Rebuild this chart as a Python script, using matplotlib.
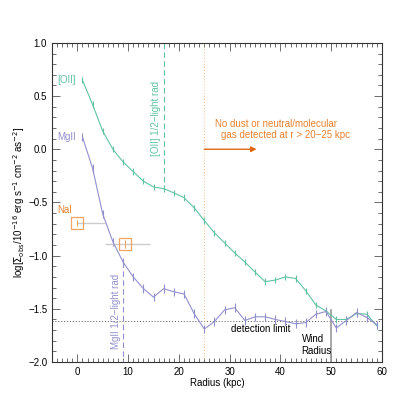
import matplotlib
matplotlib.use("Agg")
import matplotlib.pyplot as plt
from matplotlib.ticker import MultipleLocator

plt.rcParams['font.family'] = ['Liberation Sans', 'DejaVu Sans']

# ---- data ----
radius = [1, 3, 5, 7, 9, 11, 13, 15, 17, 19, 21, 23, 25, 27, 29, 31, 33, 35, 37, 39,
          41, 43, 45, 47, 49, 51, 53, 55, 57, 59]
oii = [0.65, 0.42, 0.17, 0.00, -0.12, -0.21, -0.30, -0.355, -0.37, -0.41, -0.455, -0.55,
       -0.67, -0.785, -0.88, -0.975, -1.06, -1.155, -1.245, -1.23, -1.20, -1.215, -1.33,
       -1.465, -1.52, -1.60, -1.60, -1.545, -1.55, -1.66]
oii_err = [0.03] * len(radius)
mgii = [0.115, -0.18, -0.61, -0.87, -1.06, -1.20, -1.31, -1.39, -1.31, -1.34, -1.36, -1.545,
        -1.69, -1.62, -1.51, -1.49, -1.61, -1.575, -1.575, -1.60, -1.62, -1.64, -1.63,
        -1.55, -1.525, -1.68, -1.61, -1.535, -1.58, -1.65]
mgii_err = [0.04] * len(radius)
nai_r = [0.0, 9.3]
nai_val = [-0.695, -0.89]
nai_xerr_lo = [0.0, 3.8]
nai_xerr_hi = [5.4, 5.0]
nai_yerr = [0.03, 0.04]

detection_limit = -1.61
oii_half_light = 17.0
mgii_half_light = 9.0
dust_radius = 25.0
arrow_end = 35.3
wind_radius = 50.0

c_oii = '#62c3a2'
c_mgii = '#9290cc'
c_nai = '#f2a463'
c_arrow = '#e0670f'
c_text = '#e8812f'

fig = plt.figure(figsize=(4.15, 4.15), dpi=100)
ax = fig.add_axes([0.1253, 0.1277, 0.795, 0.769])

ax.set_xlim(-5, 60)
ax.set_ylim(-2.0, 1.0)

# reference lines
ax.axhline(detection_limit, color='#555555', ls=(0, (1, 2)), lw=0.7)
ax.axvline(dust_radius, color=c_nai, ls=(0, (1, 2.5)), lw=0.6)
ax.plot([oii_half_light, oii_half_light], [1.0, -0.37], color=c_oii, ls=(0, (5, 3)), lw=0.8)
ax.plot([mgii_half_light, mgii_half_light], [-1.06, -2.0], color=c_mgii, ls=(0, (5, 3)), lw=0.8)
ax.plot([wind_radius, wind_radius], [-1.51, -2.0], color='#999999', lw=1.2)

# data series
ax.errorbar(radius, oii, yerr=oii_err, color=c_oii, lw=0.8, elinewidth=0.8, capsize=0)
ax.errorbar(radius, mgii, yerr=mgii_err, color=c_mgii, lw=0.8, elinewidth=0.8, capsize=0)
ax.errorbar(nai_r, nai_val, xerr=[nai_xerr_lo, nai_xerr_hi], fmt='none',
            ecolor='#cccccc', elinewidth=1.0, capsize=0)
ax.errorbar(nai_r, nai_val, yerr=nai_yerr, fmt='s', ms=8, mfc='none', mec=c_nai,
            mew=0.9, ecolor=c_nai, elinewidth=0.8, capsize=0)

# arrow
ax.annotate('', xy=(arrow_end, 0.0), xytext=(dust_radius, 0.0),
            arrowprops=dict(arrowstyle='-|>', color=c_arrow, lw=1.0,
                            mutation_scale=8, shrinkA=0, shrinkB=0))

fs = 7
ax.text(-4.0, 0.65, '[OII]', color=c_oii, fontsize=fs, va='center', ha='left')
ax.text(-4.0, 0.115, 'MgII', color=c_mgii, fontsize=fs, va='center', ha='left')
ax.text(-4.0, -0.57, 'NaI', color=c_text, fontsize=fs, va='center', ha='left')
ax.text(15.4, 0.29, '[OII] 1/2\u2212light rad', color=c_oii, fontsize=fs,
        rotation=90, ha='center', va='center')
ax.text(7.6, -1.52, 'MgII 1/2\u2212light rad', color=c_mgii, fontsize=fs,
        rotation=90, ha='center', va='center')
ax.text(27.2, 0.24, 'No dust or neutral/molecular', color=c_text, fontsize=fs,
        ha='left', va='center')
ax.text(28.2, 0.135, 'gas detected at r > 20\u221225 kpc', color=c_text, fontsize=fs,
        ha='left', va='center')
ax.text(30.2, -1.69, 'detection limit', color='black', fontsize=fs, ha='left', va='center')
ax.text(44.2, -1.84, 'Wind\nRadius', color='black', fontsize=fs, ha='left', va='center',
        linespacing=1.3)

ax.set_xlabel('Radius (kpc)', fontsize=fs, labelpad=1)
ax.set_ylabel(r'log[$\Sigma_{\rm obs}$/10$^{-16}$ erg s$^{-1}$ cm$^{-2}$ as$^{-2}$]',
              fontsize=fs, labelpad=0.8)

ax.xaxis.set_major_locator(MultipleLocator(10))
ax.xaxis.set_minor_locator(MultipleLocator(1))
ax.yaxis.set_major_locator(MultipleLocator(0.5))
ax.yaxis.set_minor_locator(MultipleLocator(0.1))
ax.tick_params(which='both', direction='in', top=True, right=True, labelsize=fs,
               color='#555555', width=0.6)
ax.tick_params(which='major', length=6)
ax.tick_params(which='minor', length=3)
ax.xaxis.set_major_formatter(matplotlib.ticker.FuncFormatter(lambda v, p: f'{v:.0f}'))
ax.yaxis.set_major_formatter(matplotlib.ticker.FuncFormatter(
    lambda v, p: f'{v:.1f}'.replace('-', '\u2212')))
for s in ax.spines.values():
    s.set_linewidth(0.8)
    s.set_color('#333333')

fig.savefig('out.png', dpi=100)
